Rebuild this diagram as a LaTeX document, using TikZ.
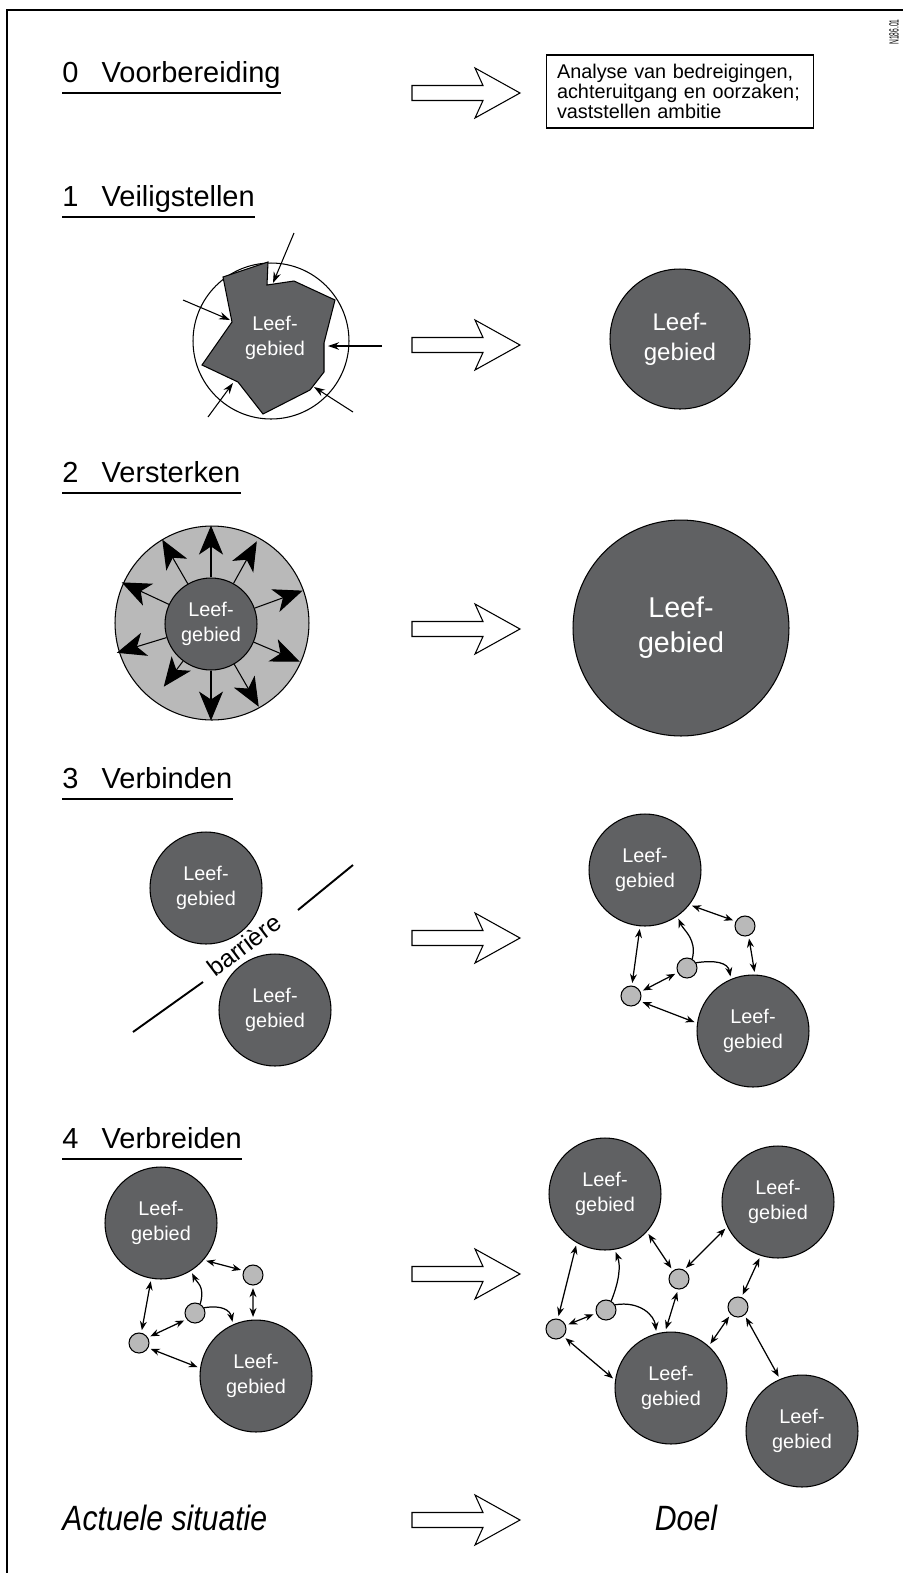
\documentclass[tikz,border=0pt]{standalone}
\usepackage{fontspec}
\setmainfont{Liberation Sans}
\newfontfamily\smalfont[FakeStretch=0.5]{Liberation Sans}
\newfontfamily\condfont[FakeStretch=0.86]{Liberation Sans}
\usetikzlibrary{arrows.meta}

\definecolor{donker}{RGB}{96,97,99}
\definecolor{licht}{RGB}{185,185,185}
\hyphenpenalty=10000

\begin{document}
\begin{tikzpicture}[x=0.02cm, y=-0.02cm,
  kop/.style={anchor=base west, inner sep=0, font=\fontsize{16.5}{20}\selectfont},
  streep/.style={line width=1.3pt},
  leef/.style={circle, draw=black, line width=0.6pt, fill=donker, text=white, align=center,
    inner sep=0, minimum size=2.24cm, font=\fontsize{11.3}{14.2}\selectfont},
  knoop/.style={circle, draw=black, line width=0.6pt, fill=licht, inner sep=0, minimum size=0.4cm},
  duo/.style={{Stealth[length=1.8mm,width=1.4mm]}-{Stealth[length=1.8mm,width=1.4mm]},
    line width=0.7pt, shorten <=1.5pt, shorten >=1.5pt},
  een/.style={-{Stealth[length=1.8mm,width=1.4mm]}, line width=0.7pt, shorten >=1.5pt},
  groei/.style={-{Stealth[length=5.8mm,width=4.8mm,inset=1.6mm]}, line width=0.6pt},
  pijl/.pic={\draw[line width=0.6pt, fill=white] (412,-7.5) -- (483,-7.5) -- (475,-25)
    -- (520,0) -- (475,25) -- (483,7.5) -- (412,7.5) -- cycle;}]
\useasboundingbox (0,0) rectangle (903,1573);
\draw[line width=0.9pt] (7,1573) -- (7,10) -- (903,10);
\node[rotate=90, inner sep=0, font=\smalfont\fontsize{7.6}{8}\selectfont] (code) at (894,32) {N186.01};

% stappen met onderstreping
\foreach \n/\y/\t in {0/82/Voorbereiding, 1/206/Veiligstellen, 2/482/Versterken,
    3/788/Verbinden, 4/1148/Verbreiden} {
  \node[kop] (kop\n) at (62,\y) {\n\hspace{0.8em}\t};
  \draw[streep] ([yshift=-6.2pt]kop\n.base west) -- ([yshift=-6.2pt]kop\n.base east);
}
\foreach \y in {93,345,629,938,1274,1520}
  \pic at (0,\y) {pijl};

% 0
\node[draw, line width=0.6pt, minimum width=5.34cm, minimum height=1.46cm, text width=4.92cm,
  align=left, inner sep=0, font=\fontsize{11.3}{10.2}\selectfont] (analyse) at (680,91.5)
  {Analyse van bedreigingen,\\achteruitgang en oorzaken;\\vaststellen ambitie};

% 1
\node[circle, draw, line width=0.6pt, minimum size=3.12cm, inner sep=0] (omtrek) at (271,341) {};
\draw[fill=donker, line width=0.6pt] (223,277) -- (268,262) -- (267,285) -- (294,281) -- (335,300)
  -- (324,343) -- (324,372) -- (310,390) -- (263,414) -- (238,382) -- (202,365) -- (232,322) -- cycle;
\node[text=white, align=center, font=\fontsize{11.3}{14.2}\selectfont] (leef1) at (275,338) {Leef-\\gebied};
\foreach \i/\a/\b in {1/{294,233}/{273,283}, 2/{183,300}/{230,320}, 3/{382,346}/{328,346},
    4/{208,417}/{233,383}, 5/{353,412}/{314,387}} {
  \coordinate (van\i) at (\a);
  \coordinate (naar\i) at (\b);
  \draw[-{Stealth[length=2.2mm,width=1.5mm]}, line width=0.6pt] (van\i) -- (naar\i);
}
\node[leef, minimum size=2.8cm, font=\fontsize{13.7}{17}\selectfont] (veilig) at (680,339) {Leef-\\gebied};

% 2
\node[circle, draw, line width=0.6pt, fill=licht, minimum size=3.88cm, inner sep=0] (ring) at (212,623) {};
\node[leef, minimum size=1.84cm] (kern) at (211,624) {Leef-\\gebied};
\foreach \a/\l in {90/52, 61/48, 20/51, -23/50, -60/49, -90/50, -127/32, -163/52, 155/52, 120/51}
  \draw[groei] (kern.\a) -- ++({\l*cos(\a)},{-\l*sin(\a)});
\node[leef, minimum size=4.32cm, font=\fontsize{16.3}{20}\selectfont] (sterk) at (681,628) {Leef-\\gebied};

% 3
\node[leef] (gebiedA) at (206,888) {Leef-\\gebied};
\node[leef] (gebiedB) at (275,1010) {Leef-\\gebied};
\coordinate (bar1) at (133,1032);
\coordinate (bar1b) at (203,982);
\coordinate (bar2b) at (298,910);
\coordinate (bar2) at (353,865);
\draw[line width=1.1pt] (bar1) -- (bar1b) (bar2b) -- (bar2);
\node[rotate=37, inner sep=0, font=\fontsize{14}{16}\selectfont] (barriere) at (244,945) {barrière};

\node[leef] (doelA) at (645,870) {Leef-\\gebied};
\node[leef] (doelB) at (753,1031) {Leef-\\gebied};
\node[knoop] (stap1) at (745,926) {};
\node[knoop] (stap2) at (687,968) {};
\node[knoop] (stap3) at (631,996) {};
\draw[duo] (doelA.-38) -- (stap1.153);
\draw[duo] (stap1.-70) -- (doelB.88);
\draw[duo] (doelA.-95) -- (stap3.85);
\draw[duo] (stap3.24) -- (stap2.206);
\draw[duo] (stap3.-30) -- (doelB.172);
\draw[een] (stap2.60) .. controls +(5,-20) and +(6,14) .. (doelA.-55);
\draw[een] (stap2.30) .. controls +(20,-3) and +(-3,-16) .. (doelB.113);

% 4
\node[leef] (actA) at (161,1223) {Leef-\\gebied};
\node[leef] (actB) at (256,1376) {Leef-\\gebied};
\node[knoop] (act1) at (253,1275) {};
\node[knoop] (act2) at (195,1313) {};
\node[knoop] (act3) at (139,1343) {};
\draw[duo] (actA.-41) -- (act1.155);
\draw[duo] (act1.-90) -- (actB.93);
\draw[duo] (actA.-100) -- (act3.77);
\draw[duo] (act3.32) -- (act2.217);
\draw[duo] (act3.-28) -- (actB.172);
\draw[een] (act2.60) .. controls +(5,-18) and +(6,12) .. (actA.-58);
\draw[een] (act2.30) .. controls +(18,-3) and +(-3,-14) .. (actB.114);

\node[leef] (verA) at (605,1194) {Leef-\\gebied};
\node[leef] (verB) at (778,1202) {Leef-\\gebied};
\node[leef] (verC) at (671,1388) {Leef-\\gebied};
\node[leef] (verD) at (802,1431) {Leef-\\gebied};
\node[knoop] (brug1) at (679,1279) {};
\node[knoop] (brug2) at (738,1307) {};
\node[knoop] (brug3) at (606,1310) {};
\node[knoop] (brug4) at (556,1329) {};
\draw[duo] (verA.-120) -- (brug4.80);
\draw[duo] (brug4.20) -- (brug3.198);
\draw[duo] (brug4.-45) -- (verC.172);
\draw[een] (brug3.60) .. controls +(8,-20) and +(6,16) .. (verA.-80);
\draw[een] (brug3.30) .. controls +(25,-4) and +(-2,-18) .. (verC.105);
\draw[duo] (verA.-42) -- (brug1.126);
\draw[duo] (brug1.61) -- (verB.206);
\draw[duo] (brug1.-95) -- (verC.96);
\draw[duo] (verB.-108) -- (brug2.70);
\draw[duo] (brug2.225) -- (verC.48);
\draw[duo] (brug2.-51) -- (verD.113);

% onderschrift
\node[anchor=base west, inner sep=0, font=\condfont\itshape\fontsize{20}{24}\selectfont] (actueel) at (62,1530) {Actuele situatie};
\node[anchor=base, inner sep=0, font=\condfont\itshape\fontsize{20}{24}\selectfont] (doel) at (686,1530) {Doel};
\end{tikzpicture}
\end{document}
